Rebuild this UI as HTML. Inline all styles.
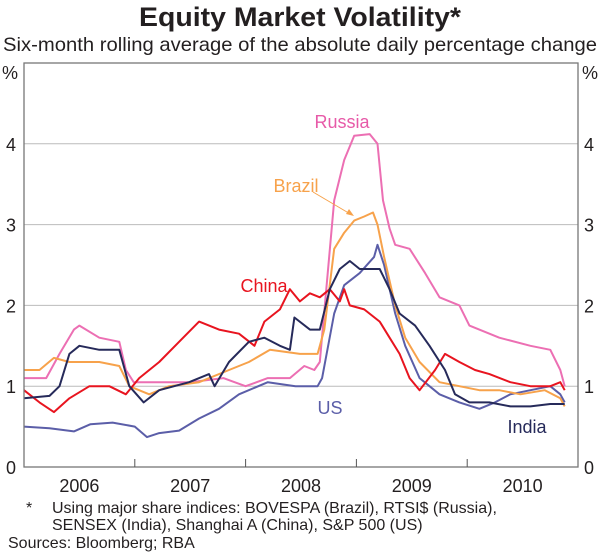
<!DOCTYPE html>
<html><head><meta charset="utf-8"><style>
body{margin:0;background:#fff;}
svg text{font-family:"Liberation Sans",Arial,sans-serif;}
</style></head><body>
<svg width="600" height="555" xmlns="http://www.w3.org/2000/svg">
<text x="300" y="26" text-anchor="middle" font-size="27" font-weight="bold" fill="#231f20" textLength="322" lengthAdjust="spacingAndGlyphs">Equity Market Volatility*</text>
<text x="300" y="51" text-anchor="middle" font-size="19.5" fill="#231f20" textLength="594" lengthAdjust="spacingAndGlyphs">Six-month rolling average of the absolute daily percentage change</text>
<text x="10" y="79" text-anchor="middle" font-size="18" fill="#231f20">%</text>
<text x="590" y="79" text-anchor="middle" font-size="18" fill="#231f20">%</text>
<g id="grid"></g>
<g id="series"></g>
<rect x="24" y="63" width="554" height="404" fill="none" stroke="#777" stroke-width="1.3"/>
<g id="axes"></g>
<text x="342" y="128" text-anchor="middle" font-size="18" fill="#e75aa8">Russia</text>
<text x="296" y="192" text-anchor="middle" font-size="18" fill="#f7a24b">Brazil</text>
<line x1="313" y1="192" x2="352" y2="215" stroke="#f7a24b" stroke-width="1"/>
<polygon points="354,216 346,214 349,209" fill="#f7a24b"/>
<text x="264" y="292" text-anchor="middle" font-size="18" fill="#e8141f">China</text>
<text x="330" y="414" text-anchor="middle" font-size="18" fill="#5b5ea8">US</text>
<text x="527" y="433" text-anchor="middle" font-size="18" fill="#262a5a">India</text>
<text x="26" y="513" font-size="16" fill="#231f20">*</text>
<text x="52" y="513" font-size="16" fill="#231f20">Using major share indices: BOVESPA (Brazil), RTSI$ (Russia),</text>
<text x="52" y="530" font-size="16" fill="#231f20">SENSEX (India), Shanghai A (China), S&amp;P 500 (US)</text>
<text x="8" y="548" font-size="16" fill="#231f20">Sources: Bloomberg; RBA</text>
</svg>
<script>
const yTicks=[0,1,2,3,4];
const yearLabels=["2006","2007","2008","2009","2010"];
const usT=[0,.23,.45,.6,.8,1.0,1.11,1.22,1.4,1.58,1.76,1.94,2.2,2.45,2.65,2.69,2.8,2.89,3.03,3.16,3.19,3.25,3.35,3.44,3.57,3.75,3.93,4.11,4.25,4.39,4.57,4.75,4.84,4.88];
const usV=[.5,.48,.44,.53,.55,.5,.37,.42,.45,.6,.72,.9,1.05,1.0,1.0,1.1,1.9,2.25,2.4,2.6,2.75,2.5,1.9,1.5,1.1,.9,.8,.72,.8,.9,.95,1.0,.9,.8];
const ruT=[0,.2,.32,.45,.5,.68,.86,.92,.99,1.2,1.5,1.8,2.0,2.2,2.4,2.53,2.62,2.67,2.8,2.89,2.98,3.12,3.19,3.24,3.3,3.35,3.48,3.62,3.75,3.93,4.02,4.29,4.57,4.75,4.84,4.88];
const ruV=[1.1,1.1,1.4,1.7,1.75,1.6,1.55,1.2,1.05,1.05,1.05,1.1,1.0,1.1,1.1,1.25,1.2,1.3,3.3,3.8,4.1,4.12,4.0,3.3,2.95,2.75,2.7,2.4,2.1,2.0,1.75,1.6,1.5,1.45,1.2,1.0];
const brT=[0,.14,.27,.41,.68,.86,.95,1.13,1.31,1.58,1.85,2.03,2.22,2.49,2.65,2.71,2.8,2.89,2.98,3.07,3.15,3.19,3.25,3.35,3.44,3.57,3.75,3.93,4.11,4.29,4.48,4.70,4.84,4.88];
const brV=[1.2,1.2,1.35,1.3,1.3,1.25,1.0,.9,1.0,1.05,1.2,1.3,1.45,1.4,1.4,1.7,2.7,2.9,3.05,3.1,3.15,3.0,2.6,2.0,1.6,1.3,1.05,1.0,.95,.95,.9,.95,.85,.75];
const inT=[0,.23,.32,.41,.5,.68,.86,.95,1.08,1.22,1.49,1.67,1.72,1.85,2.03,2.17,2.31,2.40,2.44,2.58,2.67,2.76,2.85,2.94,3.03,3.21,3.30,3.39,3.53,3.66,3.80,3.89,4.02,4.20,4.39,4.57,4.75,4.88];
const inV=[.85,.88,1.0,1.4,1.5,1.45,1.45,1.0,.8,.95,1.05,1.15,1.0,1.3,1.55,1.6,1.5,1.45,1.85,1.7,1.7,2.2,2.45,2.55,2.45,2.45,2.2,1.9,1.75,1.5,1.2,.9,.8,.8,.75,.75,.78,.78];
const cnT=[0,.14,.27,.41,.59,.77,.92,1.04,1.22,1.40,1.58,1.76,1.94,2.08,2.17,2.31,2.40,2.49,2.58,2.67,2.76,2.85,2.89,2.94,3.07,3.21,3.30,3.39,3.48,3.57,3.71,3.80,3.93,4.07,4.20,4.39,4.57,4.75,4.84,4.88];
const cnV=[.95,.8,.68,.85,1.0,1.0,.9,1.1,1.3,1.55,1.8,1.7,1.65,1.5,1.8,1.95,2.2,2.05,2.15,2.1,2.2,2.05,2.2,2.0,1.95,1.8,1.6,1.4,1.1,.95,1.2,1.4,1.3,1.2,1.15,1.05,1.0,1.0,1.05,.95];
const X0=24,X1=578,Y0=467,Y1=63;
const xs=t=>X0+t/5*(X1-X0);
const ys=v=>Y0-v/5*(Y0-Y1);
const NS="http://www.w3.org/2000/svg";
const grid=document.getElementById('grid'),axes=document.getElementById('axes'),ser=document.getElementById('series');
yTicks.forEach(v=>{
 if(v>0){const l=document.createElementNS(NS,'line');
 l.setAttribute('x1',X0);l.setAttribute('x2',X1);l.setAttribute('y1',ys(v));l.setAttribute('y2',ys(v));
 l.setAttribute('stroke','#bbb');l.setAttribute('stroke-width','1');
 
 
 grid.appendChild(l);}
 [[11,'left'],[589,'right']].forEach(([x,s])=>{
 const t=document.createElementNS(NS,'text');
 t.setAttribute('x',x);t.setAttribute('y',ys(v)+7);t.setAttribute('text-anchor','middle');t.setAttribute('font-size','18');t.setAttribute('fill','#231f20');
 t.textContent=v;
 
 
 axes.appendChild(t);});
});
yearLabels.forEach((y,i)=>{
 if(i>0){const l=document.createElementNS(NS,'line');
 l.setAttribute('x1',xs(i));l.setAttribute('x2',xs(i));l.setAttribute('y1',Y0);l.setAttribute('y2',Y0-8);
 l.setAttribute('stroke','#555');l.setAttribute('stroke-width','1');
 
 
 axes.appendChild(l);}
 const t=document.createElementNS(NS,'text');
 t.setAttribute('x',xs(i+0.5));t.setAttribute('y',492);t.setAttribute('text-anchor','middle');t.setAttribute('font-size','18');t.setAttribute('fill','#231f20');
 t.textContent=y;
 
 
 axes.appendChild(t);
});
function line(T,V,c,n){
 const p=document.createElementNS(NS,'polyline');
 p.setAttribute('points',T.map((t,i)=>xs(t).toFixed(1)+','+ys(V[i]).toFixed(1)).join(' '));
 p.setAttribute('fill','none');p.setAttribute('stroke',c);p.setAttribute('stroke-width','2');p.setAttribute('stroke-linejoin','round');
 
 
 ser.appendChild(p);
}
line(usT,usV,'#5b5ea8','line-us');
line(ruT,ruV,'#ec6fb3','line-russia');
line(brT,brV,'#f7a24b','line-brazil');
line(cnT,cnV,'#e8141f','line-china');
line(inT,inV,'#262a5a','line-india');
</script>
</body></html>
